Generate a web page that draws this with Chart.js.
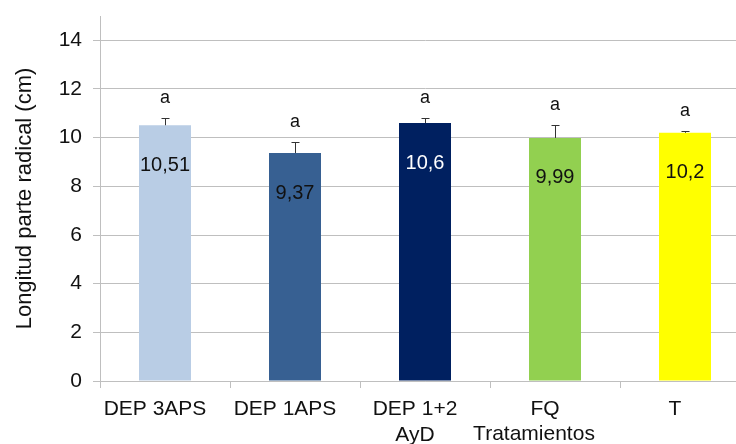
<!DOCTYPE html>
<html>
<head>
<meta charset="utf-8">
<script src="https://cdn.jsdelivr.net/npm/chart.js@4.4.1/dist/chart.umd.min.js"></script>
<style>
  html, body { margin: 0; padding: 0; background: #fff; overflow: hidden; }
  #wrap { width: 750px; height: 444px; }
</style>
</head>
<body>
<div id="wrap"><canvas id="rootChart" width="750" height="444"></canvas></div>
<script>
const treatments = ['DEP 3APS', 'DEP 1APS', ['DEP 1+2', 'AyD'], 'FQ', 'T'];
const rootLength = [10.51, 9.37, 10.6, 9.99, 10.2];
const rootError = [0.29, 0.47, 0.2, 0.54, 0.09];
const groupLetters = ['a', 'a', 'a', 'a', 'a'];
const yTicks = [0, 2, 4, 6, 8, 10, 12, 14];

const barColors = ['#b9cde5', '#376092', '#002060', '#92d050', '#ffff00'];
const labelColors = ['#111', '#111', '#fff', '#111', '#111'];

const FONT = "'Liberation Sans', Arial, sans-serif";
const GRID = '#bfbfbf';

// comma decimals, as the values are printed on the bars
const fmt = v => String(v).replace('.', ',');

const barAnnotations = {
  id: 'barAnnotations',
  afterDatasetsDraw(chart) {
    const ctx = chart.ctx;
    const y = chart.scales.y;
    const bars = chart.getDatasetMeta(0).data;
    ctx.save();
    bars.forEach((bar, i) => {
      const x = Math.round(bar.x) + 0.5;
      const top = Math.round(y.getPixelForValue(rootLength[i] + rootError[i])) + 0.5;

      // upper half of the error bar
      ctx.strokeStyle = '#333';
      ctx.lineWidth = 1;
      ctx.beginPath();
      ctx.moveTo(x, bar.y);
      ctx.lineTo(x, top);
      ctx.moveTo(x - 4, top);
      ctx.lineTo(x + 4, top);
      ctx.stroke();

      ctx.textAlign = 'center';
      ctx.textBaseline = 'middle';

      ctx.font = '18px ' + FONT;
      ctx.fillStyle = '#111';
      ctx.fillText(groupLetters[i], bar.x, top - 20);

      ctx.font = '20px ' + FONT;
      ctx.fillStyle = labelColors[i];
      ctx.fillText(fmt(rootLength[i]), bar.x, bar.y + 40);
    });

    // x axis caption sits on the second label line
    ctx.font = '21px ' + FONT;
    ctx.fillStyle = '#111';
    ctx.textAlign = 'center';
    ctx.textBaseline = 'alphabetic';
    ctx.fillText('Tratamientos', chart.chartArea.left + 434, 440);
    ctx.restore();
  }
};

new Chart(document.getElementById('rootChart'), {
  type: 'bar',
  data: {
    labels: treatments,
    datasets: [{
      data: rootLength,
      backgroundColor: barColors,
      borderWidth: 0,
      barPercentage: 0.4,
      categoryPercentage: 1
    }]
  },
  options: {
    responsive: false,
    animation: false,
    devicePixelRatio: 1,
    layout: { padding: { top: 16, left: 0, right: 0, bottom: 0 } },
    plugins: {
      legend: { display: false },
      tooltip: { enabled: false }
    },
    scales: {
      x: {
        offset: true,
        grid: { offset: true, drawOnChartArea: false, color: GRID, tickLength: 7 },
        border: { color: GRID },
        ticks: {
          color: '#111',
          padding: 9,
          labelOffset: -10,
          maxRotation: 0,
          autoSkip: false,
          font: { family: FONT, size: 21, lineHeight: 1.2 }
        },
        afterFit(scale) { scale.height = 63; }
      },
      y: {
        min: 0,
        max: 15,
        afterBuildTicks(scale) { scale.ticks = yTicks.map(v => ({ value: v })); },
        grid: { color: GRID, tickLength: 7 },
        border: { color: GRID },
        ticks: {
          color: '#111',
          padding: 11,
          font: { family: FONT, size: 21 }
        },
        title: {
          display: true,
          text: 'Longitud parte radical (cm)',
          color: '#111',
          font: { family: FONT, size: 22 },
          padding: { top: 12, bottom: 0 }
        },
        afterFit(scale) {
          scale.width = 100;
          scale.paddingTop = 0;
          scale.paddingBottom = 0;
        }
      }
    }
  },
  plugins: [barAnnotations]
});
</script>
</body>
</html>
